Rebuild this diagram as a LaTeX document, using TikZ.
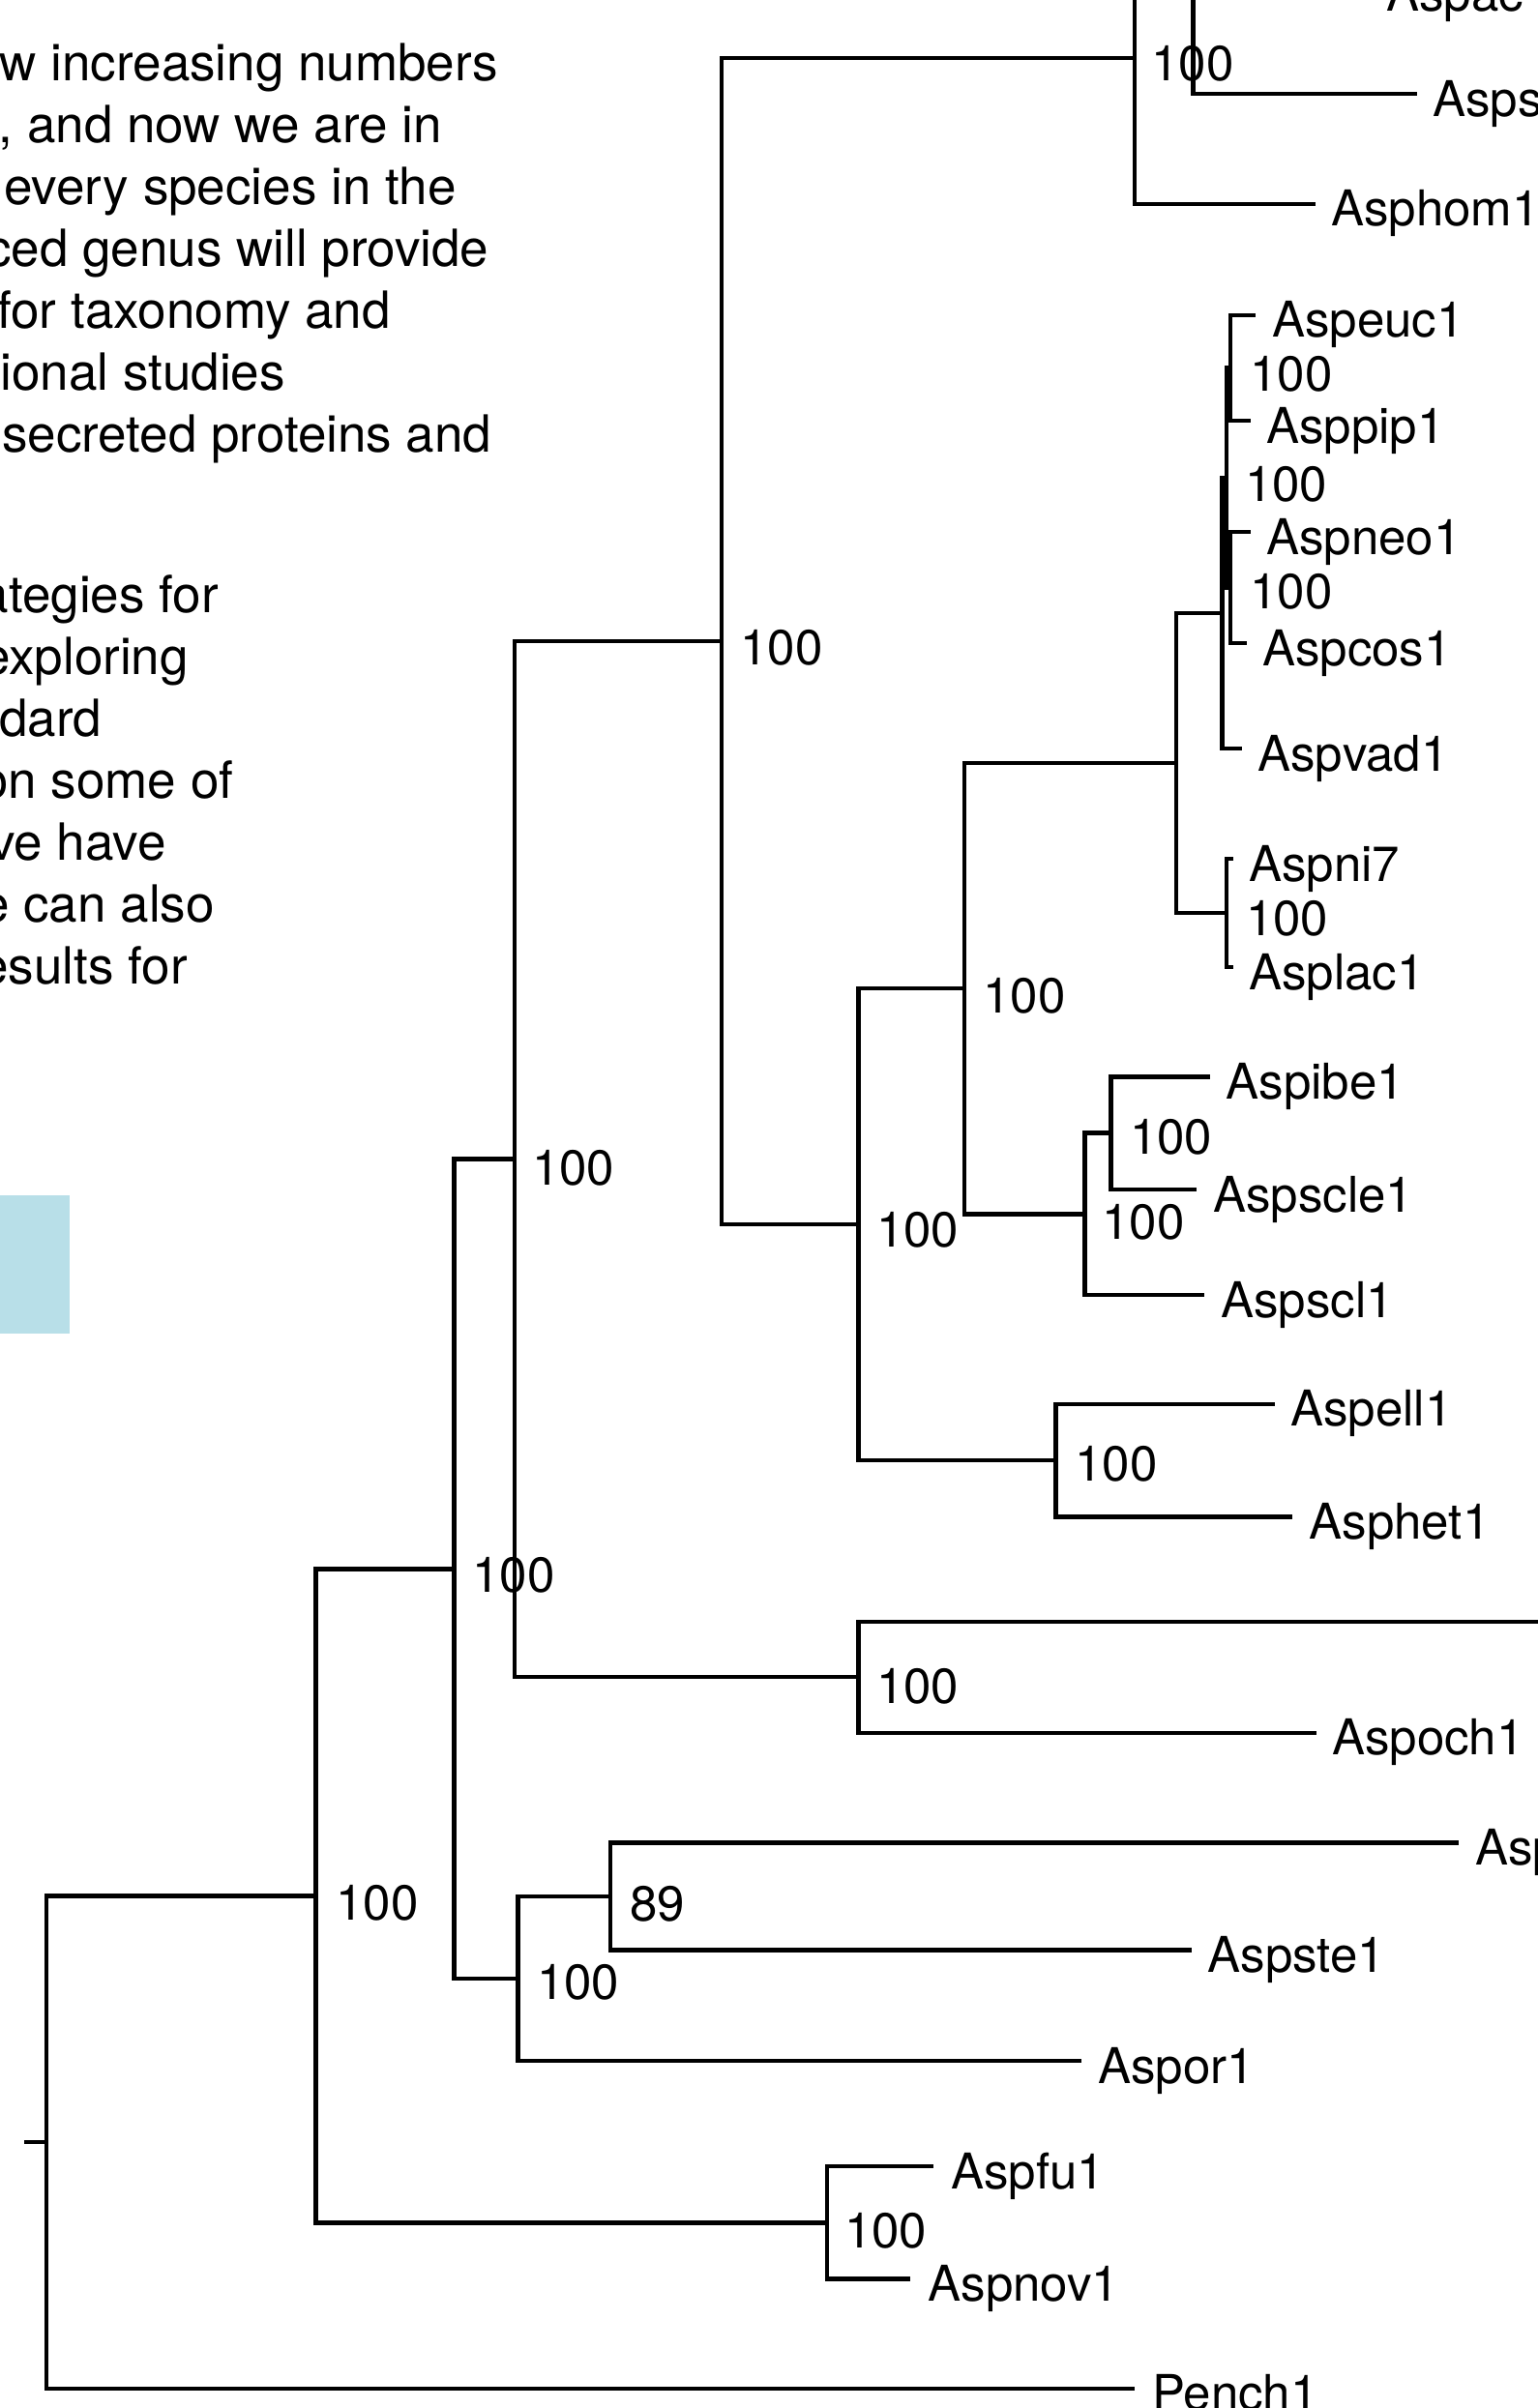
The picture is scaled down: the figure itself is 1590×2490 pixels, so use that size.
\documentclass[tikz,border=0pt]{standalone}
\usepackage{fontspec}
\setmainfont{TeX Gyre Heros}
\definecolor{boxblue}{RGB}{184,223,232}
\newcommand\treefont{\fontsize{51}{60}\selectfont}
\newcommand\prosefont{\fontsize{53}{64}\selectfont}
% leaf: name, line end x, label x, y, text
\newcommand\leaf[5]{%
  \coordinate (#1) at (#2,#4);
  \node[leaflabel] (#1-l) at (#3,#4+23) {#5};}
\begin{document}
\begin{tikzpicture}[x=1pt,y=-1pt,
  leaflabel/.style={anchor=base west, inner sep=0pt, font=\treefont},
  bs/.style={anchor=base west, inner sep=0pt, font=\treefont},
  prose/.style={anchor=base east, inner sep=0pt, font=\prosefont},
  branch/.style={draw=black, line width=4.4pt},
  bluebox/.style={fill=boxblue, draw=none, inner sep=0pt, anchor=north west,
    minimum width=71.4pt, minimum height=142.3pt}]
\useasboundingbox (0,0) rectangle (1590,2490);
\clip (0,0) rectangle (1590,2490);

% ---- text fragments at left
\node[prose] (t1) at (515,83) {w increasing numbers};
\node[prose] (t2) at (457,147) {, and now we are in};
\node[prose] (t3) at (472,211) {every species in the};
\node[prose] (t4) at (505.5,275) {ced genus will provide};
\node[prose] (t5) at (404,339) {for taxonomy and};
\node[prose] (t6) at (295,403) {ional studies};
\node[prose] (t7) at (508.5,467) {secreted proteins and};
\node[prose] (t8) at (226,633.5) {ategies for};
\node[prose] (t9) at (195,697.5) {exploring};
\node[prose] (t10) at (105.5,761.5) {dard};
\node[prose] (t11) at (241.5,825.5) {on some of};
\node[prose] (t12) at (172,889.5) {ve have};
\node[prose] (t13) at (222,953.5) {e can also};
\node[prose] (t14) at (194,1017.5) {esults for};

\node[bluebox] (band) at (0,1236) {};

% ---- internal nodes
\coordinate (rootstub) at (25,2215);
\coordinate (root) at (47.7,2215);
\coordinate (A) at (326.5,1960.3);
\coordinate (B) at (469.5,1622.3);
\coordinate (C) at (535.4,2046);
\coordinate (D) at (630.7,1961);
\coordinate (FN) at (855,2298.3);
\coordinate (E) at (532,1198.6);
\coordinate (F) at (887.3,1734.2);
\coordinate (G) at (746,663);
\coordinate (H) at (1173,60);
\coordinate (T) at (1233.5,-90.7);
\coordinate (U) at (1380,-278.4);
\coordinate (I) at (887.5,1266.1);
\coordinate (J) at (1091.6,1510);
\coordinate (K) at (997.2,1022.2);
\coordinate (L) at (1121.4,1255.3);
\coordinate (M) at (1148.3,1171.65);
\coordinate (N) at (1215.7,789);
\coordinate (O) at (1267.7,944);
\coordinate (S) at (1263.3,634);
\coordinate (Q) at (1267.7,493.9);
\coordinate (P) at (1271.7,380.35);
\coordinate (R) at (1271.7,607.5);

% ---- leaves
\leaf{aspacu}{1418}{1433}{-12}{Aspac}
\leaf{aspsac}{1464.5}{1481}{97}{Asps}
\leaf{asphom}{1360}{1376}{210.7}{Asphom1}
\leaf{aspeuc}{1298}{1315}{325.7}{Aspeuc1}
\leaf{asppip}{1293.3}{1309}{435}{Asppip1}
\leaf{aspneo}{1293.3}{1309}{550}{Aspneo1}
\leaf{aspcos}{1288.5}{1305}{665}{Aspcos1}
\leaf{aspvad}{1283.6}{1300}{774}{Aspvad1}
\leaf{aspni}{1274.7}{1291}{888}{Aspni7}
\leaf{asplac}{1274.7}{1291}{1000}{Asplac1}
\leaf{aspibe}{1251}{1267.5}{1113.3}{Aspibe1}
\leaf{aspscle}{1237}{1254}{1230}{Aspscle1}
\leaf{aspscl}{1245}{1262}{1339}{Aspscl1}
\leaf{aspell}{1317.5}{1334}{1451.7}{Aspell1}
\leaf{asphet}{1335.6}{1353.5}{1568.3}{Asphet1}
\coordinate (offleaf) at (1700,1676.7);
\leaf{aspoch}{1361}{1377}{1791.7}{Aspoch1}
\leaf{aspcam}{1508}{1525}{1905.6}{Asp}
\leaf{aspste}{1232}{1248.5}{2016.5}{Aspste1}
\leaf{aspor}{1117.5}{1135}{2131}{Aspor1}
\leaf{aspfu}{965}{983}{2240}{Aspfu1}
\leaf{aspnov}{941}{959.5}{2356.6}{Aspnov1}
\leaf{pench}{1173}{1191}{2469.8}{Pench1}

% ---- branches
\draw[branch] (rootstub) -- (root);
\draw[branch] (root) |- (A);
\draw[branch] (root) |- (pench);
\draw[branch] (A) |- (B);
\draw[branch] (A) |- (FN);
\draw[branch] (B) |- (E);
\draw[branch] (B) |- (C);
\draw[branch] (C) |- (D);
\draw[branch] (C) |- (aspor);
\draw[branch] (D) |- (aspcam);
\draw[branch] (D) |- (aspste);
\draw[branch] (FN) |- (aspfu);
\draw[branch] (FN) |- (aspnov);
\draw[branch] (E) |- (G);
\draw[branch] (E) |- (F);
\draw[branch] (F) |- (offleaf);
\draw[branch] (F) |- (aspoch);
\draw[branch] (G) |- (H);
\draw[branch] (G) |- (I);
\draw[branch] (H) |- (T);
\draw[branch] (H) |- (asphom);
\draw[branch] (T) |- (U);
\draw[branch] (T) |- (aspsac);
\draw[branch] (U) |- (aspacu);
\draw[branch] (I) |- (K);
\draw[branch] (I) |- (J);
\draw[branch] (J) |- (aspell);
\draw[branch] (J) |- (asphet);
\draw[branch] (K) |- (N);
\draw[branch] (K) |- (L);
\draw[branch] (L) |- (M);
\draw[branch] (L) |- (aspscl);
\draw[branch] (M) |- (aspibe);
\draw[branch] (M) |- (aspscle);
\draw[branch] (N) |- (S);
\draw[branch] (N) |- (O);
\draw[branch] (O) |- (aspni);
\draw[branch] (O) |- (asplac);
\draw[branch] (S) |- (Q);
\draw[branch] (S) |- (aspvad);
\draw[branch] (Q) |- (P);
\draw[branch] (Q) |- (R);
\draw[branch] (P) |- (aspeuc);
\draw[branch] (P) |- (asppip);
\draw[branch] (R) |- (aspneo);
\draw[branch] (R) |- (aspcos);

% ---- support values
\node[bs] (bA) at (347.4,1985) {100};
\node[bs] (bB) at (488.2,1646) {100};
\node[bs] (bC) at (555,2067) {100};
\node[bs] (bD) at (651,1986) {89};
\node[bs] (bFN) at (873,2324) {100};
\node[bs] (bE) at (550,1225) {100};
\node[bs] (bF) at (906,1761.7) {100};
\node[bs] (bG) at (765.4,687) {100};
\node[bs] (bH) at (1190.4,83) {100};
\node[bs] (bI) at (906,1289) {100};
\node[bs] (bJ) at (1111.4,1531.7) {100};
\node[bs] (bK) at (1016.4,1047) {100};
\node[bs] (bL) at (1139.4,1281) {100};
\node[bs] (bM) at (1168,1193) {100};
\node[bs] (bO) at (1288,967.5) {100};
\node[bs] (bQ) at (1287,518.3) {100};
\node[bs] (bP) at (1292.4,404) {100};
\node[bs] (bR) at (1292.4,629) {100};
\end{tikzpicture}
\end{document}
